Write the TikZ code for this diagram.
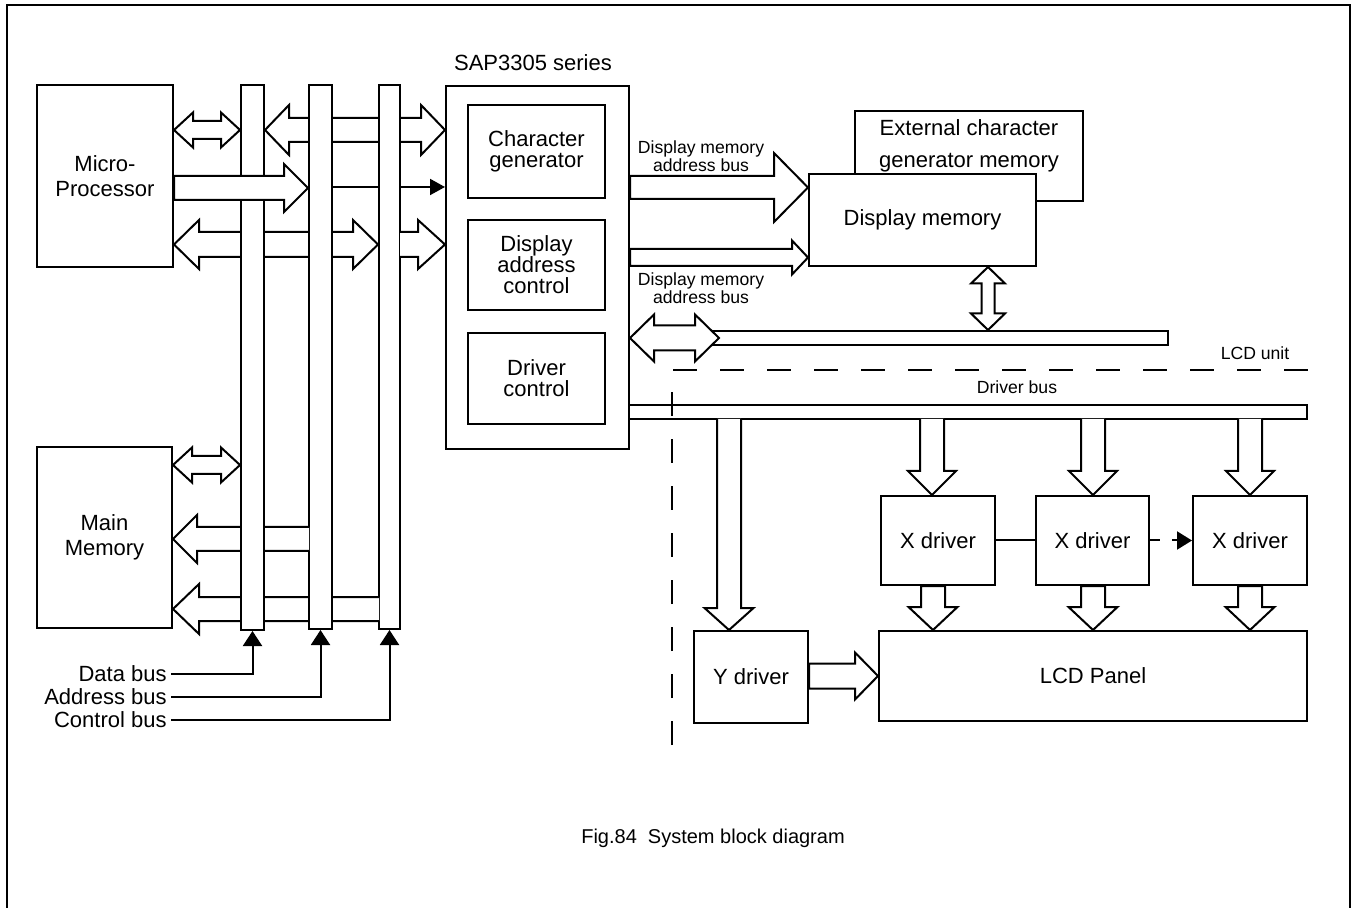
\documentclass[tikz,border=0pt]{standalone}
\usepackage{fontspec}
\setmainfont{Liberation Sans}
\usetikzlibrary{calc, arrows.meta}

\pgfdeclarelayer{under}
\pgfdeclarelayer{midA}
\pgfdeclarelayer{midB}
\pgfsetlayers{under,midA,midB,main}

% hollow bus arrows: half shaft width, half head width, head length
\tikzset{
  shaft/.store in=\fatshaft, headw/.store in=\fathead, headl/.store in=\fatlen,
  shaft=6pt, headw=12pt, headl=12pt,
  fat/.style={line width=1pt, fill=white, to path={
    ($(\tikztostart)!\fatshaft!90:(\tikztotarget)$)
    -- ($(\tikztotarget)!\fatlen!(\tikztostart)!\fatshaft!90:(\tikztotarget)$)
    -- ($(\tikztotarget)!\fatlen!(\tikztostart)!\fathead!90:(\tikztotarget)$)
    -- (\tikztotarget)
    -- ($(\tikztotarget)!\fatlen!(\tikztostart)!\fathead!-90:(\tikztotarget)$)
    -- ($(\tikztotarget)!\fatlen!(\tikztostart)!\fatshaft!-90:(\tikztotarget)$)
    -- ($(\tikztostart)!\fatshaft!-90:(\tikztotarget)$) -- cycle}},
  % branch out of a bus: tail left open
  fatopen/.style={line width=1pt, fill=white, to path={
    ($(\tikztostart)!-0.5pt!(\tikztotarget)!\fatshaft!90:(\tikztotarget)$)
    -- ($(\tikztotarget)!\fatlen!(\tikztostart)!\fatshaft!90:(\tikztotarget)$)
    -- ($(\tikztotarget)!\fatlen!(\tikztostart)!\fathead!90:(\tikztotarget)$)
    -- (\tikztotarget)
    -- ($(\tikztotarget)!\fatlen!(\tikztostart)!\fathead!-90:(\tikztotarget)$)
    -- ($(\tikztotarget)!\fatlen!(\tikztostart)!\fatshaft!-90:(\tikztotarget)$)
    -- ($(\tikztostart)!-0.5pt!(\tikztotarget)!\fatshaft!-90:(\tikztotarget)$)}},
  fatdbl/.style={line width=1pt, fill=white, to path={
    (\tikztostart)
    -- ($(\tikztostart)!\fatlen!(\tikztotarget)!\fathead!90:(\tikztotarget)$)
    -- ($(\tikztostart)!\fatlen!(\tikztotarget)!\fatshaft!90:(\tikztotarget)$)
    -- ($(\tikztotarget)!\fatlen!(\tikztostart)!\fatshaft!90:(\tikztotarget)$)
    -- ($(\tikztotarget)!\fatlen!(\tikztostart)!\fathead!90:(\tikztotarget)$)
    -- (\tikztotarget)
    -- ($(\tikztotarget)!\fatlen!(\tikztostart)!\fathead!-90:(\tikztotarget)$)
    -- ($(\tikztotarget)!\fatlen!(\tikztostart)!\fatshaft!-90:(\tikztotarget)$)
    -- ($(\tikztostart)!\fatlen!(\tikztotarget)!\fatshaft!-90:(\tikztotarget)$)
    -- ($(\tikztostart)!\fatlen!(\tikztotarget)!\fathead!-90:(\tikztotarget)$)
    -- cycle}}
}

\begin{document}
\begin{tikzpicture}[x=0.5pt, y=-0.5pt,
  font=\fontsize{11}{12.5}\selectfont,
  box/.style={draw, line width=1pt, fill=white, inner sep=0pt, align=center},
  wh/.style 2 args={minimum width=#1*0.5pt, minimum height=#2*0.5pt},
  small/.style={font=\fontsize{8.8}{9}\selectfont, align=center},
  tight/.style={font=\fontsize{11}{10.5}\selectfont},
  wire/.style={line width=1pt},
  filltip/.style={wire, -{Triangle[length=7.5pt, width=9.5pt]}}]

  \useasboundingbox (0,0) rectangle (1354,908);
  \draw[wire] (7,908) |- (1350,5) -- (1350,908);

  % CPU side
  \node[box, wh={136}{182}] (mp) at (105,176) {Micro-\\Processor};
  \node[box, wh={135}{181}] (mm) at (104.5,537.5) {Main\\Memory};

  % SAP3305
  \node (saplbl) at (533,63) {SAP3305 series};
  \node[box, wh={183}{363}] (sap) at (537.5,267.5) {};
  \node[box, tight, wh={137}{93}] (cg) at (536.5,151.5) {Character\\generator};
  \node[box, tight, wh={137}{90}] (dac) at (536.5,265) {Display\\address\\control};
  \node[box, tight, wh={137}{91}] (dc) at (536.5,378.5) {Driver\\control};

  % system buses
  \node[box, wh={23}{545}] (dbus) at (252.5,357.5) {};
  \begin{pgfonlayer}{midB}
    \node[box, wh={23}{544}] (abus) at (320.5,357) {};
    \draw[fatopen] (abus.west |- 0,539) to (mm.east |- 0,539);
  \end{pgfonlayer}
  \begin{pgfonlayer}{midA}
    \node[box, wh={21}{544}] (cbus) at (389.5,357) {};
    \draw[fatopen, shaft=6.25pt, headw=12.25pt, headl=13.5pt] (cbus.east |- 0,244.5) to (sap.west |- 0,244.5);
    \draw[fatopen, headw=12.5pt, headl=13pt] (cbus.west |- 0,609) to (mm.east |- 0,609);
  \end{pgfonlayer}
  \begin{pgfonlayer}{under}
    \draw[fatdbl, headw=12.5pt] (dbus.east |- 0,130) to (sap.west |- 0,130);
    \draw[wire, -{Triangle[length=7.5pt, width=8pt]}] (abus.east |- 0,187) -- (sap.west |- 0,187);
    \draw[fatdbl, shaft=6.25pt, headw=12.25pt, headl=12.5pt] (mp.east |- 0,244.5) to (cbus.west |- 0,244.5);
  \end{pgfonlayer}
  \draw[fat] (mp.east |- 0,188) to (abus.west |- 0,188);
  \draw[fatdbl, shaft=4.5pt, headw=8.75pt, headl=9.5pt] (mp.east |- 0,130) to (dbus.west |- 0,130);
  \draw[fatdbl, shaft=4.5pt, headw=8.75pt, headl=9.5pt] (mm.east |- 0,465) to (dbus.west |- 0,465);

  \node[anchor=east, inner sep=2pt] (ldata) at (171,674) {Data bus};
  \node[anchor=east, inner sep=2pt] (laddr) at (171,697) {Address bus};
  \node[anchor=east, inner sep=2pt] (lctrl) at (171,720) {Control bus};
  \draw[filltip] (ldata.east) -| (dbus.south);
  \draw[filltip] (laddr.east) -| (abus.south);
  \draw[filltip] (lctrl.east) -| (cbus.south);

  % display memory
  \node[box, wh={228}{90}] (ecg) at (969,156) {};
  \node[font=\fontsize{11}{16}\selectfont, align=center] (ecgtxt) at (969,146) {External character\\generator memory};
  \node[box, wh={227}{92}] (dm) at (922.5,220) {Display memory};
  \draw[fat, shaft=5.75pt, headw=17.25pt, headl=17pt] (sap.east |- 0,187.5) to (dm.west |- 0,187.5);
  \node[small] (lbla) at (701,156) {Display memory\\address bus};
  \draw[fat, shaft=4.25pt, headw=8.5pt, headl=8pt] (sap.east |- 0,257.5) to (dm.west |- 0,257.5);
  \node[small] (lblb) at (701,288) {Display memory\\address bus};
  \node[box, wh={468}{14}] (dmbus) at (934,338) {};
  \coordinate (dmtip) at (719,338);
  \draw[fatdbl, shaft=6.25pt, headw=11.75pt] (sap.east |- dmtip) to (dmtip);
  \draw[fatdbl, shaft=3.25pt, headw=8.5pt, headl=8.25pt] (dm.south -| 988,0) to (dmbus.north -| 988,0);

  % LCD unit
  \node[small] (drvlbl) at (1017,387) {Driver bus};
  \node[box, wh={678}{14}] (drvbus) at (968,412) {};
  \node[box, wh={114}{92}] (yd) at (751,677) {Y driver};
  \node[box, wh={428}{90}] (lcd) at (1093,676) {LCD Panel};
  \node[box, wh={114}{89}] (x1) at (938,540.5) {X driver};
  \node[box, wh={113}{89}] (x2) at (1092.5,540.5) {X driver};
  \node[box, wh={114}{89}] (x3) at (1250,540.5) {X driver};
  \draw[fatopen, headw=12.25pt, headl=11pt] (drvbus.south -| 729,0) to (yd.north -| 729,0);
  \foreach \n/\x in {x1/932, x2/1093, x3/1250}
    \draw[fatopen] (drvbus.south -| \x,0) to (\n.north -| \x,0);
  \foreach \n/\x in {x1/933, x2/1093, x3/1250}
    \draw[fat, headw=12.25pt, headl=11.5pt] (\n.south -| \x,0) to (lcd.north -| \x,0);
  \draw[fat, shaft=6.25pt, headw=11.75pt, headl=11.5pt] (yd.east |- 0,676) to (lcd.west |- 0,676);
  \draw[wire] (x1) -- (x2);
  \draw[wire, dash pattern=on 5pt off 6pt, -{Triangle[length=7.5pt, width=9pt]}] (x2) -- (x3);

  \node[small] (lcdlbl) at (1255,353) {LCD unit};
  \draw[wire, dash pattern=on 12pt off 11.5pt] (672,745) |- (1320,370);

  \node[font=\fontsize{10}{12}\selectfont] (cap) at (713,838) {Fig.84~~System block diagram};
\end{tikzpicture}
\end{document}
